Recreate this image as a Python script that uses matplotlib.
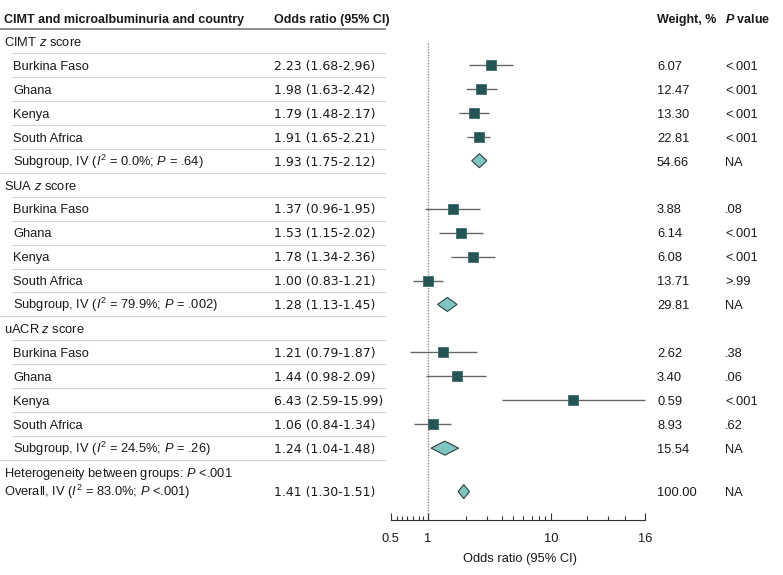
import matplotlib
matplotlib.use("Agg")
import matplotlib.pyplot as plt
from matplotlib.ticker import FixedLocator, FixedFormatter, NullFormatter

# ---------------- data ----------------
countries = ["Burkina Faso", "Ghana", "Kenya", "South Africa"]
group_titles = ["CIMT", "SUA", "uACR"]

cimt_or = [2.23, 1.98, 1.79, 1.91]
cimt_lo = [1.68, 1.63, 1.48, 1.65]
cimt_hi = [2.96, 2.42, 2.17, 2.21]
cimt_w = [6.07, 12.47, 13.30, 22.81]
cimt_p = ["<.001", "<.001", "<.001", "<.001"]
cimt_sub = [1.93, 1.75, 2.12]
cimt_sub_w = 54.66
cimt_sub_i2 = "0.0%"
cimt_sub_p = "= .64"

sua_or = [1.37, 1.53, 1.78, 1.00]
sua_lo = [0.96, 1.15, 1.34, 0.83]
sua_hi = [1.95, 2.02, 2.36, 1.21]
sua_w = [3.88, 6.14, 6.08, 13.71]
sua_p = [".08", "<.001", "<.001", ">.99"]
sua_sub = [1.28, 1.13, 1.45]
sua_sub_w = 29.81
sua_sub_i2 = "79.9%"
sua_sub_p = "= .002"

uacr_or = [1.21, 1.44, 6.43, 1.06]
uacr_lo = [0.79, 0.98, 2.59, 0.84]
uacr_hi = [1.87, 2.09, 15.99, 1.34]
uacr_w = [2.62, 3.40, 0.59, 8.93]
uacr_p = [".38", ".06", "<.001", ".62"]
uacr_sub = [1.24, 1.04, 1.48]
uacr_sub_w = 15.54
uacr_sub_i2 = "24.5%"
uacr_sub_p = "= .26"

het_p = "<.001"
overall_text = [1.41, 1.30, 1.51]
overall_drawn = [1.58, 1.47, 1.70]   # where the diamond sits in the source figure
overall_w = 100.00
overall_i2 = "83.0%"
overall_p = "<.001"

tick_labels = ["0.5", "1", "10", "16"]
tick_values = [0.62, 1.0, 4.81, 16.0]          # label positions as drawn in the source
minor_tick_values = [0.67, 0.714, 0.761, 0.825, 0.891, 0.938,
                     1.626, 2.12, 2.567, 2.966, 3.37, 3.77, 4.14, 4.47,
                     7.64, 10.0, 12.5]

# ---------------- style ----------------
FONT, FS, FS_HEAD = "Liberation Sans", 9.3, 9.0
NUM_FONT = "DejaVu Sans"
TC = "#1a1a1a"
SQ_FACE = "#245454"
SQ_EDGE = "#3f6d6d"
DIA_FACE = "#7fc5c1"
DIA_EDGE = "#2f3f3f"
CI_COL = "#666666"

plt.rcParams["font.family"] = [FONT, "DejaVu Sans"]
plt.rcParams["mathtext.fontset"] = "custom"
plt.rcParams["mathtext.rm"] = FONT
plt.rcParams["mathtext.it"] = FONT + ":italic"
plt.rcParams["mathtext.bf"] = FONT + ":bold"
has_bfit = True
try:
    plt.rcParams["mathtext.bfit"] = FONT + ":italic:bold"
except Exception:
    has_bfit = False

W, H = 783, 575
fig = plt.figure(figsize=(W / 100, H / 100), dpi=100)
bg = fig.add_axes([0, 0, 1, 1])
bg.set_xlim(0, W)
bg.set_ylim(H, 0)
bg.axis("off")

X_GRP, X_IND, X_OR, X_W, X_P = 4, 13, 274, 657, 725
Y_HEAD = 18
Y0, DY = 41, 23.95
LINE_R = 385

AX_L, AX_R, AX_T, AX_B = 380, 660, 30, 520
X1_PX, PX_DEC = 428, 180.0

ax = fig.add_axes([AX_L / W, 1 - AX_B / H, (AX_R - AX_L) / W, (AX_B - AX_T) / H])
ax.set_xscale("log")
ax.set_xlim(10 ** ((AX_L - X1_PX) / PX_DEC), 10 ** ((AX_R - X1_PX) / PX_DEC))
ax.set_ylim(AX_B, AX_T)
ax.patch.set_alpha(0)


def txt(x, y, s, size=FS, **kw):
    bg.text(x, y + 4.8, s, ha="left", va="baseline", fontsize=size, color=TC, **kw)


def num(x, y, s):
    txt(x, y, s, size=9.0, family=[NUM_FONT])


# header
txt(X_GRP, Y_HEAD, "CIMT and microalbuminuria and country", size=FS_HEAD, fontweight="bold")
txt(X_OR, Y_HEAD, "Odds ratio (95% CI)", size=FS_HEAD, fontweight="bold")
txt(X_W, Y_HEAD, "Weight, %", size=FS_HEAD, fontweight="bold")
txt(X_P, Y_HEAD, (r"$\mathbfit{P}$ value" if has_bfit else r"$\mathit{P}$ value"),
    size=FS_HEAD, fontweight="bold")
bg.plot([0, LINE_R], [29, 29], color="#7a7a7a", lw=1.2)

groups = [
    (group_titles[0], cimt_or, cimt_lo, cimt_hi, cimt_w, cimt_p, cimt_sub, cimt_sub_w, cimt_sub_i2, cimt_sub_p),
    (group_titles[1], sua_or, sua_lo, sua_hi, sua_w, sua_p, sua_sub, sua_sub_w, sua_sub_i2, sua_sub_p),
    (group_titles[2], uacr_or, uacr_lo, uacr_hi, uacr_w, uacr_p, uacr_sub, uacr_sub_w, uacr_sub_i2, uacr_sub_p),
]


def diamond(est, lo, hi, y, h=7):
    ax.fill([lo, est, hi, est], [y, y - h, y, y + h], facecolor=DIA_FACE,
            edgecolor=DIA_EDGE, lw=0.8, zorder=3)


row = 0
for (title, ors, los, his, ws, ps, sub, sub_w, sub_i2, sub_p) in groups:
    y = Y0 + DY * row
    txt(X_GRP, y, title + r" $\mathit{z}$ score")
    bg.plot([X_IND - 1, LINE_R], [y + DY / 2, y + DY / 2], color="#d4d4d4", lw=0.8)
    row += 1
    for c, o, lo, hi, w, p in zip(countries, ors, los, his, ws, ps):
        y = Y0 + DY * row
        txt(X_IND, y, c)
        num(X_OR, y, f"{o:.2f} ({lo:.2f}-{hi:.2f})")
        txt(X_W, y, f"{w:.2f}")
        txt(X_P, y, p)
        ax.hlines(y, lo, hi, color=CI_COL, lw=1.0, zorder=2)
        ax.plot([o], [y], ls="none", marker="s", ms=6.9, mfc=SQ_FACE, mec=SQ_EDGE,
                mew=0.6, zorder=4)
        bg.plot([X_IND - 1, LINE_R], [y + DY / 2, y + DY / 2], color="#d4d4d4", lw=0.8)
        row += 1
    y = Y0 + DY * row
    txt(X_IND, y, r"Subgroup, IV ($\mathit{I}^{\mathrm{2}}$ = " + sub_i2 + r"; $\mathit{P}$ " + sub_p + ")")
    num(X_OR, y, f"{sub[0]:.2f} ({sub[1]:.2f}-{sub[2]:.2f})")
    txt(X_W, y, f"{sub_w:.2f}")
    txt(X_P, y, "NA")
    diamond(sub[0], sub[1], sub[2], y)
    bg.plot([0, LINE_R], [y + DY / 2, y + DY / 2], color="#d4d4d4", lw=0.8)
    row += 1

y_het = Y0 + DY * row
txt(X_GRP, y_het, r"Heterogeneity between groups: $\mathit{P}$ " + het_p)
y_ov = y_het + 19.5
txt(X_GRP, y_ov, r"Overall, IV ($\mathit{I}^{\mathrm{2}}$ = " + overall_i2 + r"; $\mathit{P}$ " + overall_p + ")")
num(X_OR, y_ov, f"{overall_text[0]:.2f} ({overall_text[1]:.2f}-{overall_text[2]:.2f})")
txt(X_W, y_ov, f"{overall_w:.2f}")
txt(X_P, y_ov, "NA")
diamond(overall_drawn[0], overall_drawn[1], overall_drawn[2], y_ov)

# reference line at OR = 1
ax.plot([1, 1], [Y0 + 2, AX_B], color="#8a8a8a", lw=1.0, ls=(0, (1, 1)), zorder=1)

# axis
for s in ["left", "right", "top"]:
    ax.spines[s].set_visible(False)
ax.spines["bottom"].set_bounds(tick_values[0], tick_values[-1])
ax.spines["bottom"].set_color("#333333")
ax.spines["bottom"].set_linewidth(0.8)
ax.yaxis.set_visible(False)
ax.xaxis.set_major_locator(FixedLocator(tick_values))
ax.xaxis.set_major_formatter(FixedFormatter(tick_labels))
ax.xaxis.set_minor_locator(FixedLocator(minor_tick_values))
ax.xaxis.set_minor_formatter(NullFormatter())
ax.tick_params(axis="x", which="major", direction="in", length=5, width=0.8,
               color="#333333", pad=9, labelsize=FS, labelcolor=TC)
ax.tick_params(axis="x", which="minor", direction="in", length=3, width=0.8,
               color="#333333")
ax.set_xlabel("Odds ratio (95% CI)", fontsize=FS, color=TC, labelpad=6)

fig.savefig("out.png", dpi=100)
